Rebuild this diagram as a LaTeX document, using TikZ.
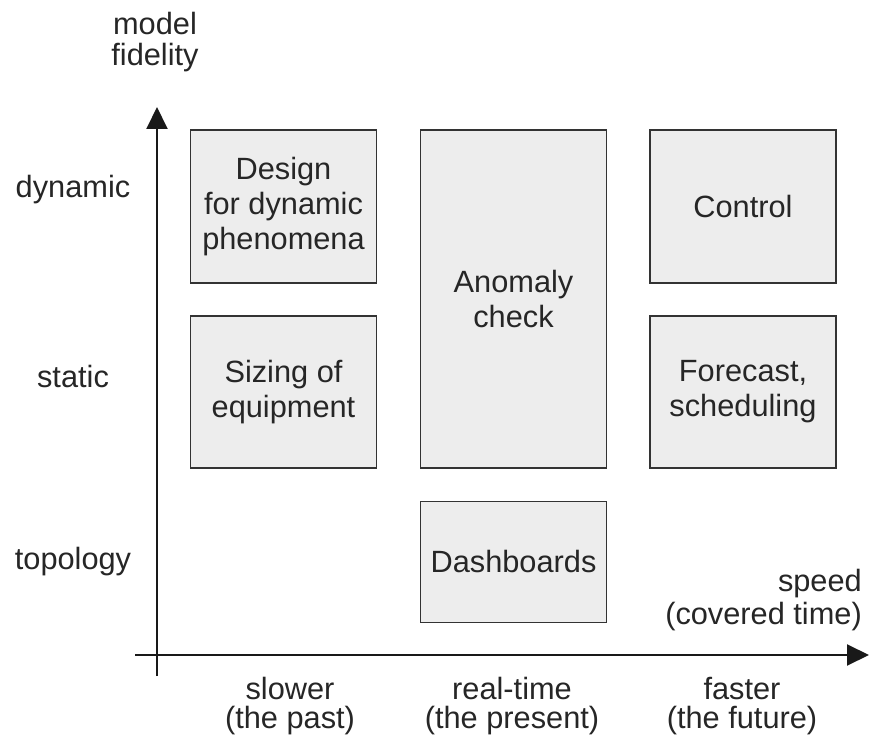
\documentclass[tikz,border=0pt]{standalone}
\usepackage{fontspec}
\setmainfont{Liberation Sans}
\usepackage{tikz}
\usetikzlibrary{arrows.meta,positioning}

\begin{document}
\begin{tikzpicture}[x=0.2mm,y=-0.2mm,
    font=\fontsize{17.5}{20}\selectfont,text=black!85,
    usecase/.style={draw=black!80,fill=black!7,line width=1.1pt,minimum width=37.2mm,align=center,inner sep=0pt},
    axis/.style={line width=1.1pt,draw=black!90,-{Triangle[length=4.4mm,width=4.2mm]}},
    tick/.style={align=center,font=\fontsize{17.5}{16.5}\selectfont}]
    \useasboundingbox (0,0) rectangle (873,742);

    % use cases
    \node[usecase,minimum height=30.6mm] (design) at (283.5,206.5) {Design\\for dynamic\\phenomena};
    \node[usecase,minimum height=30.4mm] (sizing) at (283.5,392) {Sizing of\\equipment};
    \node[usecase,minimum height=67.6mm] (anomaly) at (513.5,299) {Anomaly\\check};
    \node[usecase,minimum height=24.2mm] (dash) at (513.5,562) {Dashboards};
    \node[usecase,minimum height=30.6mm] (control) at (743,206.5) {Control};
    \node[usecase,minimum height=30.4mm] (forecast) at (743,392) {Forecast,\\scheduling};

    % axes
    \coordinate (ybot) at (157,676);
    \coordinate (ytop) at (157,107);
    \coordinate (xleft) at (135,655);
    \coordinate (xright) at (869,655);
    \draw[axis] (ybot) -- (ytop);
    \draw[axis] (xleft) -- (xright);

    \node[align=center,font=\fontsize{17.5}{18}\selectfont] (fidelity) at (155,42) {model\\fidelity};
    \node (dynamic) at (73,190) {dynamic};
    \node (static) at (73,377) {static};
    \node (topology) at (73,562) {topology};
    \node[align=right,anchor=east,font=\fontsize{17.5}{19}\selectfont] (speed) at (868,600) {speed\\(covered time)};

    \node[tick] (slower) at (290,706) {slower\\(the past)};
    \node[tick] (realtime) at (512,706) {real-time\\(the present)};
    \node[tick] (faster) at (742,706) {faster\\(the future)};
\end{tikzpicture}
\end{document}
